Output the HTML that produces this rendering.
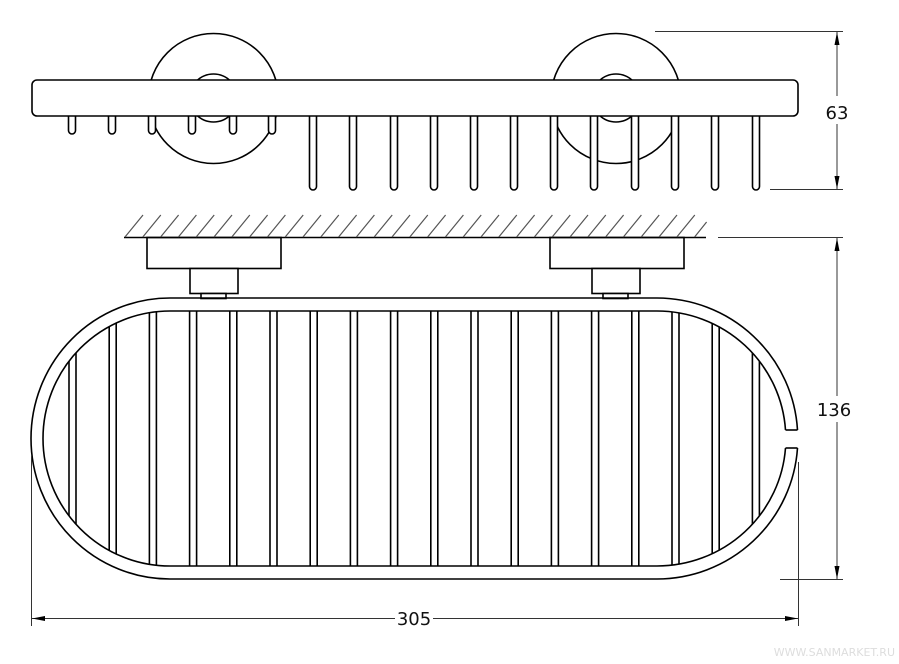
<!DOCTYPE html>
<html><head><meta charset="utf-8"><style>
html,body{margin:0;padding:0;background:#fff}
svg{display:block}
text{font-family:"DejaVu Sans","Liberation Sans",sans-serif}
</style></head><body>
<svg width="899" height="664" viewBox="0 0 899 664" xmlns="http://www.w3.org/2000/svg">
<defs>
<clipPath id="inner"><path d="M170,311 H657 A129,127.5 0 0 1 657,566 H170 A127,127.5 0 0 1 170,311 Z"/></clipPath>
</defs>
<g fill="#fff" stroke="#000" stroke-width="1.6">
<circle cx="213.5" cy="98.5" r="65"/>
<circle cx="213.5" cy="98" r="24"/>
<circle cx="616" cy="98.5" r="65"/>
<circle cx="616" cy="98" r="24"/>
<rect x="68.5" y="108" width="7" height="26" rx="3.5"/>
<rect x="108.5" y="108" width="7" height="26" rx="3.5"/>
<rect x="148.5" y="108" width="7" height="26" rx="3.5"/>
<rect x="188.5" y="108" width="7" height="26" rx="3.5"/>
<rect x="229.5" y="108" width="7" height="26" rx="3.5"/>
<rect x="268.5" y="108" width="7" height="26" rx="3.5"/>
<rect x="309.5" y="108" width="7" height="82" rx="3.5"/>
<rect x="349.5" y="108" width="7" height="82" rx="3.5"/>
<rect x="390.5" y="108" width="7" height="82" rx="3.5"/>
<rect x="430.5" y="108" width="7" height="82" rx="3.5"/>
<rect x="470.5" y="108" width="7" height="82" rx="3.5"/>
<rect x="510.5" y="108" width="7" height="82" rx="3.5"/>
<rect x="550.5" y="108" width="7" height="82" rx="3.5"/>
<rect x="590.5" y="108" width="7" height="82" rx="3.5"/>
<rect x="631.5" y="108" width="7" height="82" rx="3.5"/>
<rect x="671.5" y="108" width="7" height="82" rx="3.5"/>
<rect x="711.5" y="108" width="7" height="82" rx="3.5"/>
<rect x="752.5" y="108" width="7" height="82" rx="3.5"/>
<rect x="32" y="80" width="766" height="36" rx="5"/>
<rect x="147" y="237.5" width="134" height="31"/>
<rect x="190" y="268.5" width="48" height="25"/>
<rect x="201" y="293.5" width="25" height="5"/>
<rect x="550" y="237.5" width="134" height="31"/>
<rect x="592" y="268.5" width="48" height="25"/>
<rect x="603" y="293.5" width="25" height="5"/>
</g>
<g stroke="#555" stroke-width="1.2">
<line x1="124" y1="237.5" x2="706" y2="237.5" stroke="#000" stroke-width="1.6"/>
<path d="M125,237 l18,-22 M142.8,237 l18,-22 M160.6,237 l18,-22 M178.4,237 l18,-22 M196.2,237 l18,-22 M214,237 l18,-22 M231.8,237 l18,-22 M249.6,237 l18,-22 M267.4,237 l18,-22 M285.2,237 l18,-22 M303,237 l18,-22 M320.8,237 l18,-22 M338.6,237 l18,-22 M356.4,237 l18,-22 M374.2,237 l18,-22 M392,237 l18,-22 M409.8,237 l18,-22 M427.6,237 l18,-22 M445.4,237 l18,-22 M463.2,237 l18,-22 M481,237 l18,-22 M498.8,237 l18,-22 M516.6,237 l18,-22 M534.4,237 l18,-22 M552.2,237 l18,-22 M570,237 l18,-22 M587.8,237 l18,-22 M605.6,237 l18,-22 M623.4,237 l18,-22 M641.2,237 l18,-22 M659,237 l18,-22 M676.8,237 l18,-22 M694.6,237 l12,-15"/>
</g>
<g fill="none" stroke="#000" stroke-width="1.6">
<path d="M797.5,430 A141,140.5 0 0 0 657,298 H170 A139,140.5 0 0 0 170,579 H657 A141,140.5 0 0 0 797.5,448"/>
<path d="M785.5,430 A129,127.5 0 0 0 657,311 H170 A127,127.5 0 0 0 170,566 H657 A129,127.5 0 0 0 785.5,448"/>
<line x1="785.5" y1="430" x2="797.5" y2="430"/>
<line x1="785.5" y1="448" x2="797.5" y2="448"/>
<g clip-path="url(#inner)">
<path d="M69,300V580M76,300V580M109.2,300V580M116.2,300V580M149.4,300V580M156.4,300V580M189.6,300V580M196.6,300V580M229.8,300V580M236.8,300V580M270,300V580M277,300V580M310.2,300V580M317.2,300V580M350.4,300V580M357.4,300V580M390.6,300V580M397.6,300V580M430.8,300V580M437.8,300V580M471,300V580M478,300V580M511.2,300V580M518.2,300V580M551.4,300V580M558.4,300V580M591.6,300V580M598.6,300V580M631.8,300V580M638.8,300V580M672,300V580M679,300V580M712.2,300V580M719.2,300V580M752.4,300V580M759.4,300V580"/>
</g>
</g>
<g stroke="#333" stroke-width="1" fill="none">
<line x1="655" y1="31.5" x2="843" y2="31.5"/>
<line x1="770" y1="189.5" x2="843" y2="189.5"/>
<line x1="718" y1="237.5" x2="843" y2="237.5"/>
<line x1="780" y1="579.5" x2="843" y2="579.5"/>
<line x1="837" y1="32" x2="837" y2="96"/>
<line x1="837" y1="124" x2="837" y2="189"/>
<line x1="837" y1="238" x2="837" y2="396"/>
<line x1="837" y1="422" x2="837" y2="579"/>
<line x1="31.5" y1="455" x2="31.5" y2="626"/>
<line x1="798.5" y1="462" x2="798.5" y2="626"/>
<line x1="32" y1="618.5" x2="395" y2="618.5"/>
<line x1="433" y1="618.5" x2="798" y2="618.5"/>
</g>
<g fill="#000">
<path d="M837,32 L834.5,45 L839.5,45 Z"/>
<path d="M837,189 L834.5,176 L839.5,176 Z"/>
<path d="M837,238 L834.5,251 L839.5,251 Z"/>
<path d="M837,579 L834.5,566 L839.5,566 Z"/>
<path d="M32,618.5 L45,616 L45,621 Z"/>
<path d="M798,618.5 L785,616 L785,621 Z"/>
</g>
<g font-size="18" fill="#111">
<text x="837" y="119" text-anchor="middle">63</text>
<text x="834" y="416" text-anchor="middle">136</text>
<text x="414" y="625" text-anchor="middle">305</text>
</g>
<text x="895" y="656" text-anchor="end" font-size="11" fill="#ddd">WWW.SANMARKET.RU</text>
</svg>
</body></html>
